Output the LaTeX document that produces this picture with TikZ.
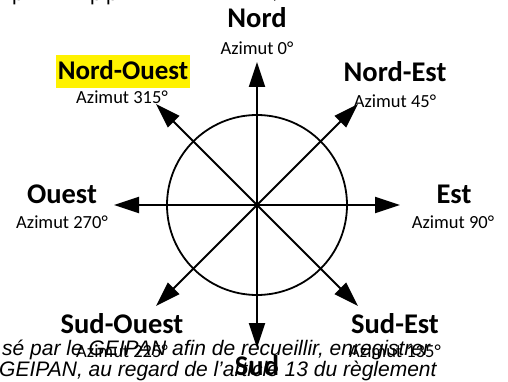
\documentclass[tikz,border=0pt]{standalone}
\usepackage{fontspec}
\setmainfont{Carlito}
\newfontfamily\docfont{Liberation Sans}
\usetikzlibrary{arrows.meta}
\newcommand\dirfont{\fontsize{28.5}{32}\selectfont\bfseries}
\newcommand\dirfontsmall{\fontsize{27}{30}\selectfont\bfseries}
\newcommand\azfont{\fontsize{18.5}{22}\selectfont}
\newcommand\bodyfont{\docfont\fontsize{21}{24}\selectfont}
\tikzset{
  arr/.style={line width=2pt,-{Triangle[length=25pt,width=16pt]}},
  dirlabel/.style={anchor=base,inner sep=0pt,font=\dirfont},
  azlabel/.style={anchor=base,inner sep=0pt,font=\azfont},
  bodyline/.style={anchor=base west,inner sep=0pt,font=\bodyfont\itshape},
  frag/.style={anchor=base west,inner sep=0pt,font=\bodyfont},
}
\begin{document}
\begin{tikzpicture}[x=1pt,y=-1pt]
\useasboundingbox (0,0) rectangle (508,382);
\clip (0,0) rectangle (508,382);
% fragments of the previous line of text
\begin{scope}
\clip (0,0) rectangle (508,6);
\node[frag] (f1) at (12,1) {p};
\node[frag] (f2) at (90,1) {p};
\node[frag] (f3) at (106,1) {p};
\node[frag] (f4) at (272,-1) {,};
\end{scope}
% compass
\node[circle,draw,line width=1.8pt,minimum size=180pt,inner sep=0pt] (c) at (257,205) {};
\coordinate (N) at (257,62);
\coordinate (S) at (257,348);
\coordinate (W) at (114,205);
\coordinate (E) at (400,205);
\coordinate (NW) at (156,104);
\coordinate (NE) at (358,104);
\coordinate (SW) at (156,306);
\coordinate (SE) at (358,306);
\foreach \t in {N,S,W,E,NW,NE,SW,SE} \draw[arr] (c.center) -- (\t);
% labels
\node[dirlabel] (lN) at (257,28) {Nord};
\node[azlabel] (aN) at (257,55) {Azimut 0°};
\node[dirlabel,font=\dirfontsmall,fill=yellow,inner xsep=1.5pt,text height=25pt,text depth=8pt] (lNW) at (123,80) {Nord-Ouest};
\node[azlabel] (aNW) at (122,104) {Azimut 315°};
\node[dirlabel] (lNE) at (395,82) {Nord-Est};
\node[azlabel] (aNE) at (395,108) {Azimut 45°};
\node[dirlabel] (lW) at (62,203) {Ouest};
\node[azlabel] (aW) at (62,228) {Azimut 270°};
\node[dirlabel] (lE) at (454,203) {Est};
\node[azlabel] (aE) at (453,228) {Azimut 90°};
\node[dirlabel] (lSW) at (122,333) {Sud-Ouest};
\node[azlabel] (aSW) at (122,357) {Azimut 225°};
\node[dirlabel] (lSE) at (395,333) {Sud-Est};
\node[azlabel] (aSE) at (395,357) {Azimut 135°};
\node[dirlabel] (lS) at (257,375) {Sud};
% overlapping body text
\node[bodyline] (b1) at (2,355) {sé par le GEIPAN afin de recueillir, enregistrer};
\node[bodyline] (b2) at (-1,376) {GEIPAN, au regard de l’article 13 du règlement};
\end{tikzpicture}
\end{document}
